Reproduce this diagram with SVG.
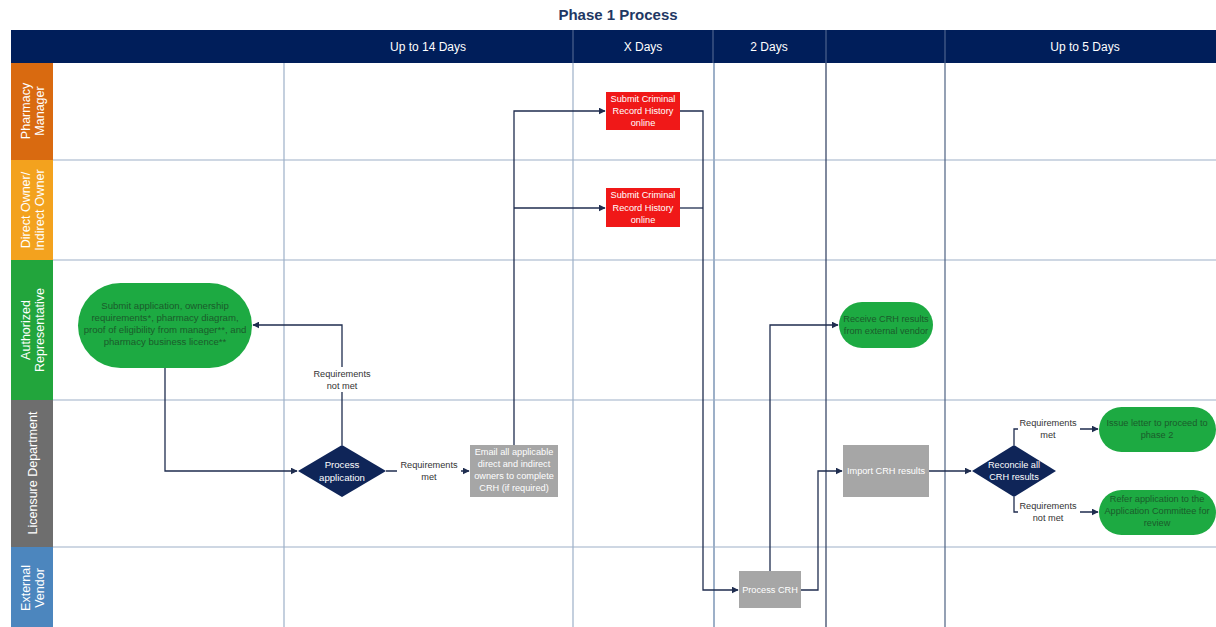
<svg xmlns="http://www.w3.org/2000/svg" width="1216" height="627" viewBox="0 0 1216 627">
<defs>
<style>
text{font-family:"Liberation Sans",Arial,sans-serif}
.title{font-size:15px;font-weight:bold;fill:#1F3864}
.hdr{font-size:12px;fill:#fff}
.lane{font-size:12.5px;fill:#fff}
.grid{stroke:#9DB0C8;stroke-width:1.2;fill:none}
.gridd{stroke:#2B3A5C;stroke-width:1.2;fill:none}
.conn{stroke:#1F2D4F;stroke-width:1.3;fill:none}
.red{fill:#F01818}
.gray{fill:#A6A6A6}
.green{fill:#1DAA42}
.dia{fill:#0F2558}
.wt{font-size:9.2px;fill:#fff;text-anchor:middle}
.gt{font-size:9.2px;fill:#1B5B2B;text-anchor:middle}
.lbl{font-size:9.2px;fill:#333;text-anchor:middle}
</style>
<marker id="arr" viewBox="0 0 10 10" refX="9" refY="5" markerWidth="7" markerHeight="7" orient="auto" markerUnits="userSpaceOnUse">
<path d="M0,0 L10,5 L0,10 z" fill="#1F2D4F"/>
</marker>
</defs>
<rect width="1216" height="627" fill="#fff"/>
<text class="title" x="618" y="20" text-anchor="middle">Phase 1 Process</text>

<g id="header">
<rect x="11" y="30" width="1205" height="33" fill="#001E5A"/>
<line x1="573" y1="30" x2="573" y2="63" stroke="#5A6E96" stroke-width="1"/>
<line x1="713" y1="30" x2="713" y2="63" stroke="#5A6E96" stroke-width="1"/>
<line x1="826" y1="30" x2="826" y2="63" stroke="#5A6E96" stroke-width="1"/>
<line x1="945" y1="30" x2="945" y2="63" stroke="#5A6E96" stroke-width="1"/>
<text class="hdr" x="428" y="51" text-anchor="middle">Up to 14 Days</text>
<text class="hdr" x="643" y="51" text-anchor="middle">X Days</text>
<text class="hdr" x="769" y="51" text-anchor="middle">2 Days</text>
<text class="hdr" x="1085" y="51" text-anchor="middle">Up to 5 Days</text>
</g>

<g id="lanes">
<rect x="11" y="63" width="42" height="97" fill="#D96A10"/>
<rect x="11" y="160" width="42" height="100" fill="#F3A21E"/>
<rect x="11" y="260" width="42" height="140" fill="#22A53C"/>
<rect x="11" y="400" width="42" height="147" fill="#6E6E6E"/>
<rect x="11" y="547" width="42" height="80" fill="#4C86BE"/>
<g transform="translate(32,111) rotate(-90)"><text class="lane" x="0" y="-2" text-anchor="middle">Pharmacy</text><text class="lane" x="0" y="12" text-anchor="middle">Manager</text></g>
<g transform="translate(32,210) rotate(-90)"><text class="lane" x="0" y="-2" text-anchor="middle">Direct Owner/</text><text class="lane" x="0" y="12" text-anchor="middle">Indirect Owner</text></g>
<g transform="translate(32,330) rotate(-90)"><text class="lane" x="0" y="-2" text-anchor="middle">Authorized</text><text class="lane" x="0" y="12" text-anchor="middle">Representative</text></g>
<g transform="translate(32,473) rotate(-90)"><text class="lane" x="0" y="5" text-anchor="middle">Licensure Department</text></g>
<g transform="translate(32,588) rotate(-90)"><text class="lane" x="0" y="-2" text-anchor="middle">External</text><text class="lane" x="0" y="12" text-anchor="middle">Vendor</text></g>
</g>

<g id="grid">
<line class="grid" x1="53" y1="160" x2="1216" y2="160"/>
<line class="grid" x1="53" y1="260" x2="1216" y2="260"/>
<line class="grid" x1="53" y1="400" x2="1216" y2="400"/>
<line class="grid" x1="53" y1="547" x2="1216" y2="547"/>
<line class="grid" x1="284" y1="63" x2="284" y2="627"/>
<line class="grid" x1="573" y1="63" x2="573" y2="627"/>
<line class="grid" x1="714" y1="63" x2="714" y2="627" style="stroke-width:2"/>
<line class="gridd" x1="826" y1="63" x2="826" y2="627"/>
<line class="grid" x1="945" y1="63" x2="945" y2="627" style="stroke:#4E6282"/>
</g>

<g id="connectors">
<polyline class="conn" points="165,368 165,471 297,471" marker-end="url(#arr)"/>
<polyline class="conn" points="342,445 342,325 253,325" marker-end="url(#arr)"/>
<line class="conn" x1="386" y1="471" x2="469" y2="471" marker-end="url(#arr)"/>
<polyline class="conn" points="514,445 514,111 605,111" marker-end="url(#arr)"/>
<line class="conn" x1="514" y1="208" x2="605" y2="208" marker-end="url(#arr)"/>
<polyline class="conn" points="680,111 703,111 703,590 738,590" marker-end="url(#arr)"/>
<line class="conn" x1="680" y1="208" x2="703" y2="208"/>
<polyline class="conn" points="770,571 770,325 838,325" marker-end="url(#arr)"/>
<polyline class="conn" points="801,590 818,590 818,471 842,471" marker-end="url(#arr)"/>
<line class="conn" x1="929" y1="471" x2="971" y2="471" marker-end="url(#arr)"/>
<polyline class="conn" points="1014,445 1014,429 1098,429" marker-end="url(#arr)"/>
<polyline class="conn" points="1014,497 1014,512 1098,512" marker-end="url(#arr)"/>
<rect x="308" y="367" width="68" height="25" fill="#fff"/>
<text class="lbl" x="342" y="377">Requirements</text>
<text class="lbl" x="342" y="389">not met</text>
<rect x="397" y="458" width="64" height="25" fill="#fff"/>
<text class="lbl" x="429" y="468">Requirements</text>
<text class="lbl" x="429" y="480">met</text>
<rect x="1018" y="416" width="62" height="25" fill="#fff"/>
<text class="lbl" x="1048" y="426">Requirements</text>
<text class="lbl" x="1048" y="438">met</text>
<rect x="1018" y="500" width="62" height="25" fill="#fff"/>
<text class="lbl" x="1048" y="509">Requirements</text>
<text class="lbl" x="1048" y="521">not met</text>
</g>

<g id="submit-application">
<rect class="green" x="78" y="283" width="174" height="85" rx="42.5"/>
<text class="gt" x="165" y="309" style="font-size:9.6px">Submit application, ownership</text>
<text class="gt" x="165" y="321" style="font-size:9.6px">requirements*, pharmacy diagram,</text>
<text class="gt" x="165" y="333" style="font-size:9.6px">proof of eligibility from manager**, and</text>
<text class="gt" x="165" y="345" style="font-size:9.6px">pharmacy business licence**</text>
</g>

<g id="process-application">
<polygon class="dia" points="298,471 342,445 386,471 342,497"/>
<text class="wt" x="342" y="468" style="font-size:9.6px">Process</text>
<text class="wt" x="342" y="481" style="font-size:9.6px">application</text>
</g>

<g id="email-owners">
<rect class="gray" x="470" y="445" width="88" height="52"/>
<text class="wt" x="514" y="455">Email all applicable</text>
<text class="wt" x="514" y="467">direct and indirect</text>
<text class="wt" x="514" y="479">owners to complete</text>
<text class="wt" x="514" y="491">CRH (if required)</text>
</g>

<g id="crh-manager">
<rect class="red" x="606" y="92" width="74" height="38"/>
<text class="wt" x="643" y="102">Submit Criminal</text>
<text class="wt" x="643" y="114">Record History</text>
<text class="wt" x="643" y="126">online</text>
</g>

<g id="crh-owner">
<rect class="red" x="606" y="188" width="74" height="39"/>
<text class="wt" x="643" y="198">Submit Criminal</text>
<text class="wt" x="643" y="211">Record History</text>
<text class="wt" x="643" y="223">online</text>
</g>

<g id="process-crh">
<rect class="gray" x="739" y="571" width="62" height="37"/>
<text class="wt" x="770" y="593">Process CRH</text>
</g>

<g id="receive-crh">
<rect class="green" x="839" y="302" width="94" height="46" rx="23"/>
<text class="gt" x="886" y="322">Receive CRH results</text>
<text class="gt" x="886" y="334">from external vendor</text>
</g>

<g id="import-crh">
<rect class="gray" x="843" y="445" width="86" height="52"/>
<text class="wt" x="886" y="474">Import CRH results</text>
</g>

<g id="reconcile">
<polygon class="dia" points="972,471 1014,445 1056,471 1014,497"/>
<text class="wt" x="1014" y="468">Reconcile all</text>
<text class="wt" x="1014" y="480">CRH results</text>
</g>

<g id="issue-letter">
<rect class="green" x="1099" y="407" width="117" height="45" rx="22.5"/>
<text class="gt" x="1157" y="426">Issue letter to proceed to</text>
<text class="gt" x="1157" y="438">phase 2</text>
</g>

<g id="refer-committee">
<rect class="green" x="1099" y="490" width="117" height="45" rx="22.5"/>
<text class="gt" x="1157" y="502">Refer application to the</text>
<text class="gt" x="1157" y="514">Application Committee for</text>
<text class="gt" x="1157" y="526">review</text>
</g>
</svg>
